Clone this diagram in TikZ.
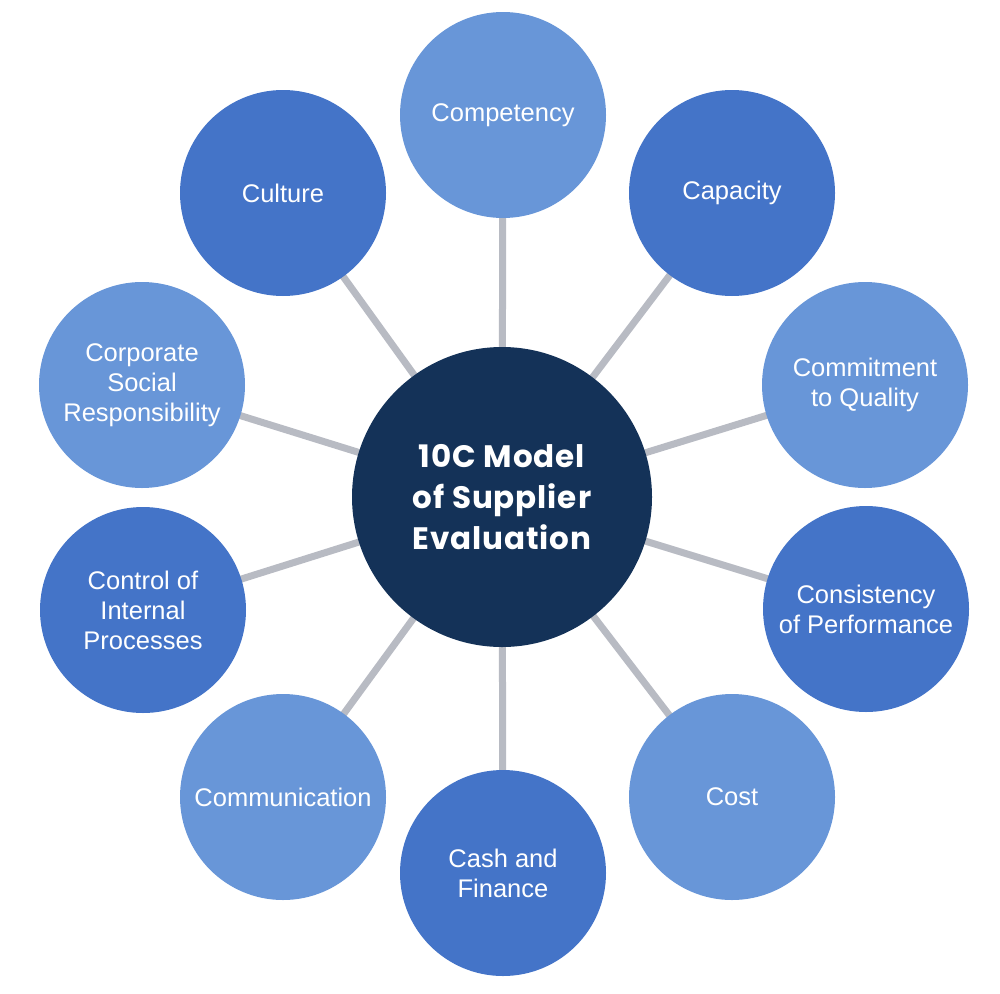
\documentclass[tikz,border=0pt]{standalone}
\usepackage{fontspec}
\setmainfont{Liberation Sans}
\newfontfamily\titlefont{Poppins}[LetterSpace=3]
\usetikzlibrary{backgrounds}
\definecolor{hubnavy}{RGB}{20, 50, 88}
\definecolor{lightblue}{RGB}{104, 150, 216}
\definecolor{darkblue}{RGB}{68, 116, 200}
\definecolor{linkgray}{RGB}{184, 187, 195}

\begin{document}
\begin{tikzpicture}[x=1pt, y=-1pt,
  hub/.style={circle, fill=hubnavy, minimum size=300pt, inner sep=0pt, align=center, text=white, font=\titlefont\bfseries\fontsize{31}{41}\selectfont},
  spoke/.style={circle, minimum size=206pt, inner sep=0pt, align=center, text=white, font=\fontsize{25.5}{30}\selectfont},
  lightspoke/.style={spoke, fill=lightblue},
  darkspoke/.style={spoke, fill=darkblue},
  link/.style={line width=7pt, draw=linkgray}]
  \useasboundingbox (0,0) rectangle (1000,993);

  % Centre
  \node[hub] (hub) at (502, 497) {10C Model\\of Supplier\\Evaluation};

  % Outer ring, clockwise from the top
  \node[lightspoke] (competency) at (503, 115) {Competency};
  \node[darkspoke] (capacity) at (732, 193) {Capacity};
  \node[lightspoke] (commitment) at (865, 385) {Commitment\\to Quality};
  \node[darkspoke] (consistency) at (866, 609) {Consistency\\of Performance};
  \node[lightspoke] (cost) at (732, 797) {Cost};
  \node[darkspoke] (cash) at (503, 873) {Cash and\\Finance};
  \node[lightspoke] (communication) at (283, 797) {Communication};
  \node[darkspoke] (control) at (143, 610) {Control of\\Internal\\Processes};
  \node[lightspoke] (csr) at (142, 385) {Corporate\\Social\\Responsibility};
  \node[darkspoke] (culture) at (283, 193) {Culture};

  % Spokes
  \begin{scope}[on background layer]
    \draw[link] (hub.center) -- (competency.center);
    \draw[link] (hub.center) -- (capacity.center);
    \draw[link] (hub.center) -- (commitment.center);
    \draw[link] (hub.center) -- (consistency.center);
    \draw[link] (hub.center) -- (cost.center);
    \draw[link] (hub.center) -- (cash.center);
    \draw[link] (hub.center) -- (communication.center);
    \draw[link] (hub.center) -- (control.center);
    \draw[link] (hub.center) -- (csr.center);
    \draw[link] (hub.center) -- (culture.center);
  \end{scope}
\end{tikzpicture}
\end{document}
